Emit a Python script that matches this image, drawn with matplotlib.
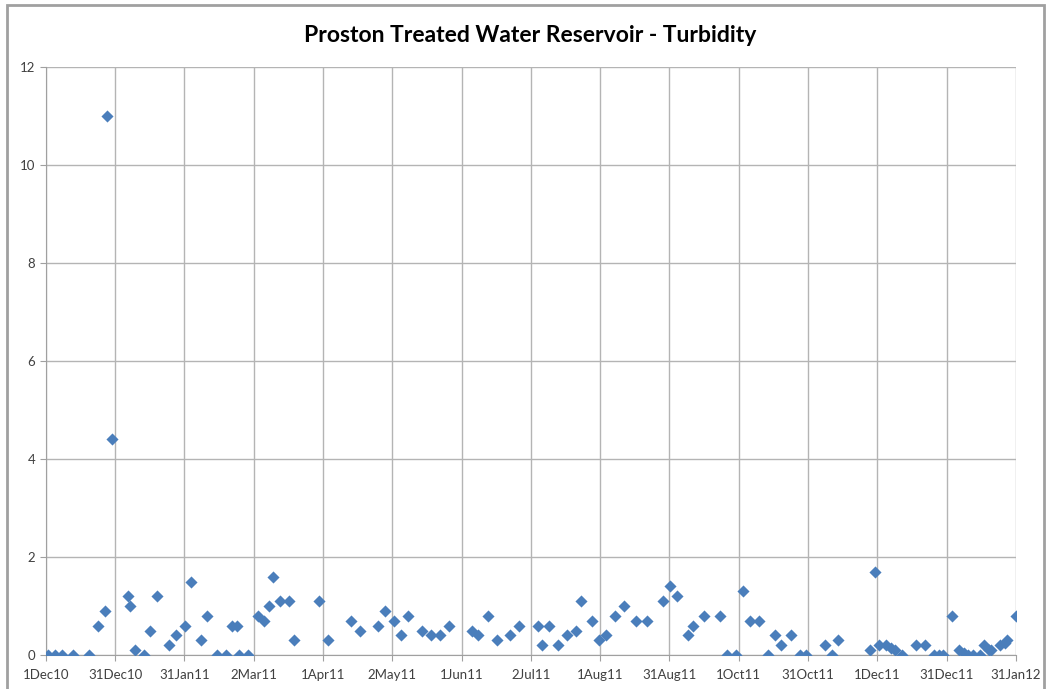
import matplotlib
matplotlib.use("Agg")
import matplotlib.pyplot as plt
import numpy as np
from matplotlib.patches import Rectangle

# days since 1 Dec 2010
days = [1, 4, 7, 12, 19, 23, 26, 27, 29, 36, 37, 39, 43, 46, 49, 54, 57, 61, 64, 68,
        71, 75, 79, 82, 84, 85, 89, 93, 96, 98, 100, 103, 107, 109, 120, 124, 134, 138,
        146, 149, 153, 156, 159, 165, 169, 173, 177, 187, 190, 194, 198, 204, 208, 216,
        218, 221, 225, 229, 233, 235, 240, 243, 246, 250, 254, 259, 264, 271, 274, 277,
        282, 284, 289, 296, 299, 303, 306, 309, 313, 317, 320, 323, 327, 331, 334, 342,
        345, 348, 362, 364, 366, 369, 371, 373, 376, 382, 386, 390, 392, 394, 398, 401,
        403, 405, 407, 410, 412, 414, 415, 419, 421, 422, 426]
turbidity = [0, 0, 0, 0, 0, 0.6, 0.9, 11.0, 4.4, 1.2, 1.0, 0.1, 0.0, 0.5, 1.2, 0.2, 0.4, 0.6, 1.5, 0.3,
             0.8, 0, 0, 0.6, 0.6, 0, 0, 0.8, 0.7, 1.0, 1.6, 1.1, 1.1, 0.3, 1.1, 0.3, 0.7, 0.5,
             0.6, 0.9, 0.7, 0.4, 0.8, 0.5, 0.4, 0.4, 0.6, 0.5, 0.4, 0.8, 0.3, 0.4, 0.6, 0.6,
             0.2, 0.6, 0.2, 0.4, 0.5, 1.1, 0.7, 0.3, 0.4, 0.8, 1.0, 0.7, 0.7, 1.1, 1.4, 1.2,
             0.4, 0.6, 0.8, 0.8, 0, 0, 1.3, 0.7, 0.7, 0, 0.4, 0.2, 0.4, 0, 0, 0.2,
             0, 0.3, 0.1, 1.7, 0.2, 0.2, 0.15, 0.1, 0, 0.2, 0.2, 0, 0, 0, 0.8, 0.1,
             0.05, 0, 0, 0, 0.2, 0.1, 0.1, 0.2, 0.25, 0.3, 0.8]

x_labels = ["1Dec10", "31Dec10", "31Jan11", "2Mar11", "1Apr11", "2May11", "1Jun11",
            "2Jul11", "1Aug11", "31Aug11", "1Oct11", "31Oct11", "1Dec11", "31Dec11", "31Jan12"]
y_ticks = [0, 2, 4, 6, 8, 10, 12]

W, H = 1051, 689
fig = plt.figure(figsize=(W / 100, H / 100), dpi=100)
fig.patch.set_facecolor("white")
fig.patches.append(Rectangle((7 / W, -0.01), (1044 - 7) / W, 1 - 5 / H + 0.01,
                             transform=fig.transFigure, fill=False,
                             edgecolor="#a0a0a0", linewidth=2))

ax = fig.add_axes([45.7 / W, 1 - 655 / H, (1016 - 45.7) / W, (655 - 67) / H])
ax.scatter(days, turbidity, marker="D", s=38, color="#4a7ebb", zorder=3, linewidths=0)

ax.set_xlim(0, 426)
ax.set_ylim(0, 12)
ax.set_xticks(np.linspace(0, 426, len(x_labels)))
ax.set_xticklabels(x_labels)
ax.set_yticks(y_ticks)
ax.grid(True, color="#b4b4b4", linewidth=1)
ax.set_axisbelow(True)
for s in ["top", "right"]:
    ax.spines[s].set_visible(False)
for s in ["left", "bottom"]:
    ax.spines[s].set_color("#a0a0a0")
ax.tick_params(axis="both", colors="#a0a0a0", labelcolor="#404040", labelsize=9.5,
               length=4, direction="out")
ax.tick_params(axis="x", pad=6)
for lbl in ax.get_xticklabels() + ax.get_yticklabels():
    lbl.set_family("Lato")

fig.text(530 / W, 1 - 35 / H, "Proston Treated Water Reservoir - Turbidity",
         ha="center", va="center", fontsize=16.5, fontweight="bold", family="Lato",
         color="#000000")

fig.savefig("out.png", dpi=100)
